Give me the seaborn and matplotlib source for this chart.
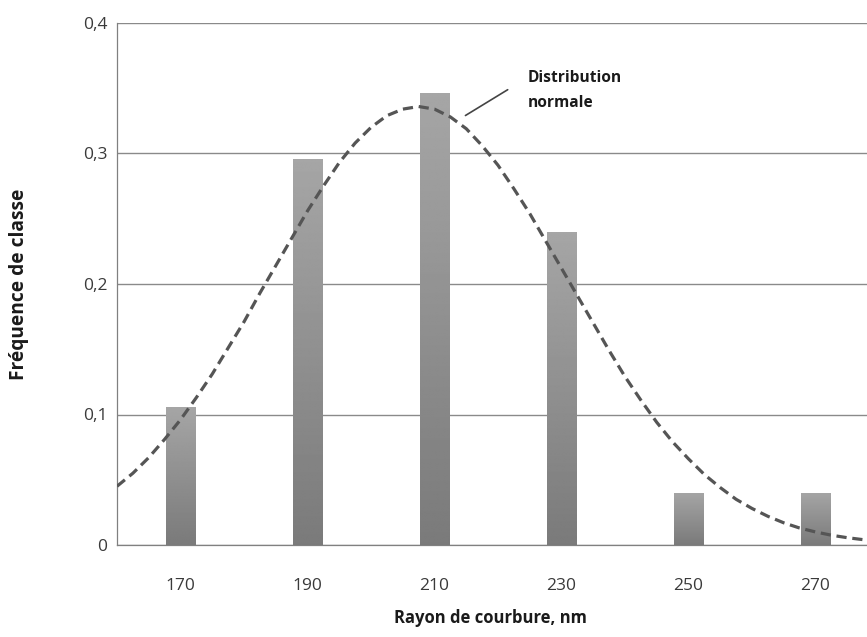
import matplotlib
matplotlib.use("Agg")
import matplotlib.pyplot as plt
import numpy as np
import pandas as pd
import seaborn as sns

# ---------------------------------------- DATA ----------------------------------------
rayon = [170, 190, 210, 230, 250, 270]
frequence = [0.106, 0.296, 0.346, 0.240, 0.040, 0.040]

# dashed curve
courbe_x = [160, 162.5, 165, 167.5, 170, 172.5, 175, 177.5, 180, 182.5, 185, 187.5, 190,
            192.5, 195, 197.5, 200, 202.5, 205, 207.5, 210, 212.5, 215, 217.5, 220, 222.5,
            225, 227.5, 230, 232.5, 235, 237.5, 240, 242.5, 245, 247.5, 250, 252.5, 255,
            257.5, 260, 262.5, 265, 267.5, 270, 272.5, 275, 277.5, 280]
courbe_y = [0.045, 0.055, 0.067, 0.081, 0.096, 0.113, 0.131, 0.151, 0.171, 0.193, 0.214,
            0.235, 0.256, 0.275, 0.293, 0.308, 0.320, 0.329, 0.334, 0.336, 0.334, 0.328,
            0.319, 0.306, 0.291, 0.273, 0.254, 0.233, 0.212, 0.191, 0.170, 0.149, 0.129,
            0.111, 0.094, 0.079, 0.066, 0.054, 0.044, 0.035, 0.028, 0.022, 0.017, 0.013,
            0.010, 0.0075, 0.0056, 0.0041, 0.003]

y_ticks = [0, 0.1, 0.2, 0.3, 0.4]
y_labels = ["0", "0,1", "0,2", "0,3", "0,4"]

df = pd.DataFrame({"rayon": rayon, "frequence": frequence})

# ---------------------------------------- PLOT ----------------------------------------
sns.set_style("white")
plt.rcParams["font.family"] = ["Open Sans", "DejaVu Sans"]

fig = plt.figure(figsize=(8.67, 6.37), dpi=100)
ax = fig.add_axes([117 / 867, 92 / 637, 762 / 867, 522 / 637])

sns.barplot(data=df, x="rayon", y="frequence", native_scale=True, width=0.23,
            color="#909090", errorbar=None, ax=ax, zorder=3)

# vertical gradient on the bars (light top, dark bottom)
grad = np.linspace(0.48, 0.65, 256).reshape(-1, 1)
for bar in ax.patches:
    x0, y0 = bar.get_x(), bar.get_y()
    w, h = bar.get_width(), bar.get_height()
    im = ax.imshow(grad, cmap="gray", vmin=0, vmax=1, origin="lower", aspect="auto",
                   extent=[x0, x0 + w, y0, y0 + h], zorder=3, interpolation="bilinear")
    im.set_clip_path(bar)
    bar.set_facecolor("none")
    bar.set_edgecolor("none")

sns.lineplot(x=courbe_x, y=courbe_y, ax=ax, color="#555555", linewidth=2.3, zorder=4)
ax.lines[-1].set_dashes((3.2, 1.8))

ax.set_xlim(160, 280)
ax.set_ylim(0, 0.4)
ax.set_xticks(rayon)
ax.set_xticklabels([str(r) for r in rayon])
ax.set_xticks(np.arange(160, 281, 20), minor=True)
ax.tick_params(axis="x", which="major", length=0, pad=24, labelsize=12.5, labelcolor="#3a3a3a")
ax.tick_params(axis="x", which="minor", length=8, width=0.8, color="#808080", direction="out")
ax.set_yticks(y_ticks)
ax.set_yticklabels(y_labels)
ax.tick_params(axis="y", length=6, width=0.8, color="#808080", direction="out",
               labelsize=12.5, labelcolor="#3a3a3a", pad=1)

ax.grid(axis="y", color="#8a8a8a", linewidth=1, zorder=1)
ax.set_axisbelow(True)
for side in ["top", "right"]:
    ax.spines[side].set_visible(False)
for side in ["left", "bottom"]:
    ax.spines[side].set_color("#808080")
    ax.spines[side].set_linewidth(0.9)

ax.set_xlabel("Rayon de courbure, nm", fontsize=12, fontweight="bold", color="#1a1a1a")
ax.set_ylabel("Fréquence de classe", fontsize=13.8, fontweight="bold", color="#1a1a1a")
ax.xaxis.set_label_coords(373 / 762, -64 / 522)
ax.yaxis.set_label_coords(-88 / 762, 0.5)

# annotation
ax.annotate("", xy=(214.5, 0.328), xytext=(221.9, 0.350),
            arrowprops=dict(arrowstyle="-", color="#444444", lw=1.2))
ax.text(224.7, 0.348, "Distribution\nnormale", fontsize=11.2, fontweight="bold",
        color="#1a1a1a", ha="left", va="center", linespacing=1.75)

fig.savefig("out.png", dpi=100)
